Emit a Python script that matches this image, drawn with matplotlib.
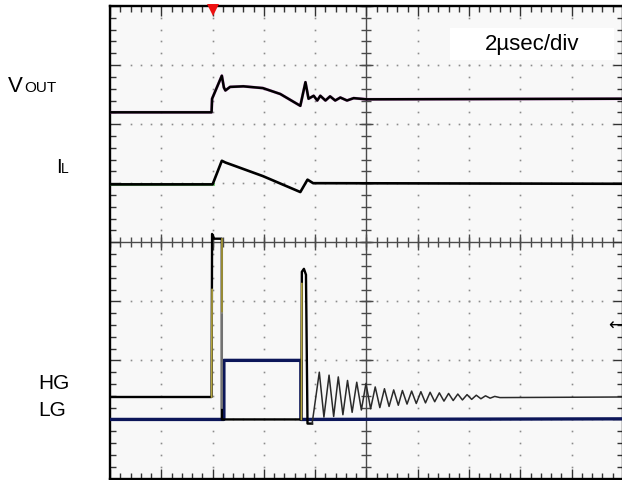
import numpy as np
import matplotlib.pyplot as plt
from matplotlib.patches import Rectangle

# scope screen: x in divisions (2 usec/div), y in divisions from screen centre
vout_t = [0.0, 1.98, 1.99, 2.18, 2.22, 2.25, 2.34, 2.60, 2.98, 3.32, 3.71,
          3.81, 3.87, 3.97, 4.04, 4.10, 4.20, 4.29, 4.39, 4.49, 4.62, 4.75, 5.0, 10.0]
vout_v = [2.20, 2.20, 2.43, 2.82, 2.62, 2.57, 2.63, 2.64, 2.61, 2.51, 2.31,
          2.71, 2.43, 2.48, 2.40, 2.48, 2.40, 2.47, 2.40, 2.45, 2.40, 2.44, 2.42, 2.43]

il_t = [0.0, 2.00, 2.18, 2.25, 2.41, 2.98, 3.71, 3.85, 3.96, 10.0]
il_v = [0.98, 0.98, 1.38, 1.35, 1.30, 1.12, 0.85, 1.06, 1.00, 0.99]

hg_t = [0.0, 1.98, 1.99, 2.03, 2.18, 2.18, 3.73, 3.74, 3.78, 3.82, 3.85, 3.94,
        4.08, 4.17, 4.27, 4.36, 4.45, 4.54, 4.63, 4.72, 4.81, 4.90, 4.99, 5.08,
        5.17, 5.26, 5.35, 5.44, 5.53, 5.62, 5.70, 5.79, 5.88, 5.97, 6.06, 6.15,
        6.24, 6.33, 6.42, 6.51, 6.60, 6.69, 6.78, 6.87, 6.96, 7.05, 7.14, 7.23,
        7.32, 7.41, 7.50, 7.60, 10.0]
hg_v = [-2.62, -2.62, 0.14, 0.06, 0.06, -3.00, -3.00, -0.50, -0.45, -0.55, -3.07, -3.07,
        -2.20, -2.96, -2.25, -2.95, -2.28, -2.92, -2.34, -2.88, -2.37, -2.84, -2.39, -2.82,
        -2.45, -2.80, -2.48, -2.78, -2.50, -2.76, -2.51, -2.74, -2.52, -2.73, -2.53, -2.72,
        -2.54, -2.70, -2.55, -2.69, -2.56, -2.68, -2.57, -2.67, -2.58, -2.66, -2.59, -2.65,
        -2.60, -2.64, -2.61, -2.63, -2.62]

lg_t = [0.0, 2.22, 2.22, 3.72, 3.72, 10.0]
lg_v = [-3.00, -3.00, -2.00, -2.00, -3.00, -2.99]

time_label = "2µsec/div"
trigger_t = 2.0
gnd_marker_v = -1.39

plt.rcParams['font.family'] = ['Liberation Sans', 'DejaVu Sans']

fig = plt.figure(figsize=(6.22, 4.81), dpi=100)
ax = fig.add_axes([110 / 622, 1.5 / 481, 513 / 622, 472.5 / 481])
ax.set_xlim(0, 10)
ax.set_ylim(-4, 4)
ax.set_facecolor('#f8f8f8')

# dotted graticule
minor_x = np.arange(0, 10.01, 0.2)
minor_y = np.arange(-4, 4.01, 0.2)
dot = dict(ls='none', marker='s', ms=1.2, mew=0, color='#8c8c8c', zorder=1)
for gx in [1, 2, 3, 4, 6, 7, 8, 9]:
    ax.plot(np.full_like(minor_y, gx), minor_y, **dot)
for gy in [-3, -2, -1, 1, 2, 3]:
    ax.plot(minor_x, np.full_like(minor_x, gy), **dot)

# centre cross with ticks
ax.axvline(5, color='#4a4a4a', lw=1.0, zorder=1)
ax.axhline(0, color='#4a4a4a', lw=1.0, zorder=1)
ax.plot(minor_x, np.zeros_like(minor_x), ls='none', marker='|', ms=6.5, mew=1, color='#4a4a4a', zorder=1)
ax.plot(np.arange(0, 11), np.zeros(11), ls='none', marker='|', ms=12, mew=1, color='#4a4a4a', zorder=1)
ax.plot(np.full_like(minor_y, 5), minor_y, ls='none', marker='_', ms=7, mew=1, color='#4a4a4a', zorder=1)
ax.plot(np.full(9, 5), np.arange(-4, 5), ls='none', marker='_', ms=10, mew=1, color='#4a4a4a', zorder=1)

# border ticks
ax.set_xticks(np.arange(0, 11))
ax.set_yticks(np.arange(-4, 5))
ax.set_xticks(minor_x, minor=True)
ax.set_yticks(minor_y, minor=True)
ax.tick_params(which='both', direction='in', top=True, right=True, color='#333333',
               labelbottom=False, labelleft=False)
ax.tick_params(which='major', length=7, width=1)
ax.tick_params(which='minor', length=4, width=1)
for s in ax.spines.values():
    s.set_linewidth(1.7)
    s.set_color('black')

# traces
ax.plot(vout_t, vout_v, color='#b040b0', lw=2.1, alpha=0.6, zorder=4)
ax.plot(vout_t, vout_v, color='black', lw=1.8, zorder=5)
ax.plot(il_t, il_v, color='black', lw=1.9, zorder=5)
ax.plot(il_t[:2], il_v[:2], color='#30c030', lw=2.2, alpha=0.6, zorder=4)
ax.plot(lg_t, lg_v, color='#0c1659', lw=2.4, zorder=4)
ax.plot(hg_t[:12], hg_v[:12], color='black', lw=1.7, zorder=5)
ax.plot(hg_t[11:], hg_v[11:], color='#2a2a2a', lw=1.1, zorder=5)
# fast edges drawn lighter, as on the scope screen
ax.plot([hg_t[1], hg_t[2]], [hg_v[1], -0.8], color='#b5a640', lw=1.2, zorder=6)
ax.plot([hg_t[4], hg_t[5]], [hg_v[4], -1.2], color='#b5a640', lw=1.2, zorder=6)
ax.plot([hg_t[4], hg_t[5]], [-1.2, -2.8], color='#8a8a8a', lw=1.2, zorder=6)
ax.plot([hg_t[6], hg_t[7]], [hg_v[6], -0.7], color='#b5a640', lw=1.2, zorder=6)

# time base box
ax.add_patch(Rectangle((6.62, 3.09), 3.2, 0.54, facecolor='white', edgecolor='none', zorder=3))
ax.text(8.22, 3.36, time_label, fontsize=16, ha='center', va='center', zorder=6)

# trigger and ground markers
ax.plot([trigger_t], [3.93], marker='v', color='#ee1111', ms=8, mew=0, clip_on=False, zorder=10)
ax.text(9.99, gnd_marker_v, "←", fontsize=12, ha='right', va='center',
        family='DejaVu Sans', zorder=10)

# channel labels
def ftext(x, y, s, size):
    fig.text(x / 622, 1 - y / 481, s, fontsize=size, va='baseline', ha='left')

ftext(8, 92, "V", 16)
ftext(24, 92, "OUT", 11)
ftext(56, 173, "I", 14.5)
ftext(60.5, 173, "L", 10)
ftext(38, 389, "HG", 15)
ftext(38, 416, "LG", 15)

fig.savefig("out.png", dpi=100)
